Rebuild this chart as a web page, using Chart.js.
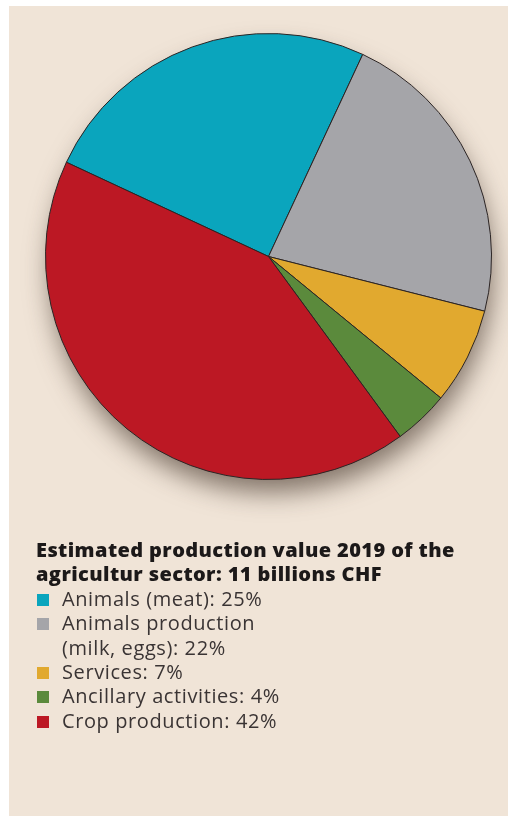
<!DOCTYPE html>
<html>
<head>
<meta charset="utf-8">
<script src="https://cdn.jsdelivr.net/npm/chart.js"></script>
<style>
  html, body { margin: 0; padding: 0; background: #fff; }
  body { width: 508px; height: 816px; position: relative; overflow: hidden; font-family: "Open Sans", Lato, sans-serif; }
  #panel { position: absolute; left: 9px; top: 6px; right: 0; bottom: 0; background: #f0e4d7; }
  #wrap { position: absolute; left: 0; top: 0; width: 508px; height: 540px; }
  #text { position: absolute; left: 36px; top: 538px; font-size: 20px; line-height: 24.4px; }
  #title { font-weight: 800; color: #1c1919; letter-spacing: 0.4px; }
  .item { position: relative; padding-left: 26px; color: #3a3434; white-space: pre-line; letter-spacing: 0.6px; }
  .sw { position: absolute; left: 1px; top: 7px; width: 12px; height: 12px; }
</style>
</head>
<body>
<div id="panel"></div>
<div id="wrap"><canvas id="pie"></canvas></div>
<div id="text"></div>
<script>
const title = ["Estimated production value 2019 of the", "agricultur sector: 11 billions CHF"];
const categories = ["Animals (meat)", "Animals production\n(milk, eggs)", "Services", "Ancillary activities", "Crop production"];
const shares = [25, 22, 7, 4, 42];
const colors = ["#0aa5bd", "#a5a5a9", "#e1a92f", "#5b8a3c", "#bc1824"];

const text = document.getElementById("text");
text.innerHTML =
  `<div id="title">${title.join("<br>")}</div>` +
  categories
    .map(
      (c, i) =>
        `<div class="item"><span class="sw" style="background:${colors[i]}"></span>${c}: ${shares[i]}%</div>`,
    )
    .join("");

// soft drop shadow under the whole pie
const pieShadow = {
  id: "pieShadow",
  beforeDatasetsDraw(chart) {
    const arc = chart.getDatasetMeta(0).data[0];
    if (!arc) return;
    const { x, y, outerRadius } = arc.getProps(["x", "y", "outerRadius"], true);
    const ctx = chart.ctx;
    ctx.save();
    ctx.shadowColor = "rgba(70, 55, 45, 0.65)";
    ctx.shadowBlur = 26;
    ctx.shadowOffsetX = 3;
    ctx.shadowOffsetY = 15;
    ctx.beginPath();
    ctx.arc(x, y, outerRadius - 2, 0, Math.PI * 2);
    ctx.fillStyle = "#8a7a70";
    ctx.fill();
    ctx.restore();
  },
};

new Chart(document.getElementById("pie"), {
  type: "pie",
  data: {
    labels: categories,
    datasets: [
      {
        data: shares,
        backgroundColor: colors,
        borderColor: "#2b2424",
        borderWidth: 1,
      },
    ],
  },
  options: {
    responsive: true,
    maintainAspectRatio: false,
    animation: false,
    rotation: -65,
    layout: { padding: { left: 45, right: 16, top: 33, bottom: 60 } },
    plugins: { legend: { display: false }, tooltip: { enabled: false } },
  },
  plugins: [pieShadow],
});
</script>
</body>
</html>
